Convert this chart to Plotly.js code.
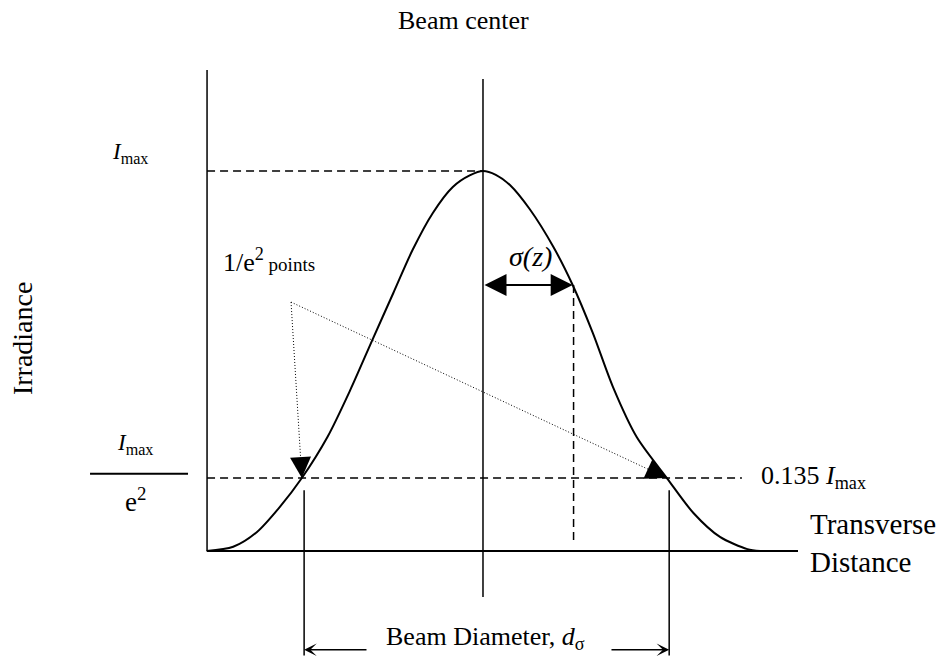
<!DOCTYPE html>
<html><head><meta charset="utf-8">
<script src="https://cdn.plot.ly/plotly-3.0.1.min.js"></script>
<style>html,body{margin:0;padding:0;background:#fff}</style>
</head><body><div id="chart" style="width:940px;height:658px"></div>
<script>
// Beam profile: transverse distance (units of sigma) and normalised irradiance
const curveX = [-3.02,-2.73,-2.47,-2.22,-1.98,-1.70,-1.45,-1.21,-0.98,-0.77,-0.55,-0.33,-0.14,0,0.14,0.30,0.51,0.77,0.98,1.20,1.42,1.68,2.01,2.30,2.59,2.89,3.03];
const curveY = [0,0.011,0.05,0.116,0.192,0.30,0.424,0.555,0.679,0.792,0.889,0.958,0.989,1.0,0.990,0.962,0.900,0.80,0.70,0.574,0.432,0.30,0.192,0.10,0.037,0.005,0];
const levels = [1.0, 0.192];          // I_max level and 1/e^2 level as drawn
const edgePoints = [-1.98, 2.01];     // 1/e^2 crossing points
const sigmaPoint = [0.98, 0.70];      // sigma(z) point on the profile
const pointsLabelOrigin = [-2.098, 0.655]; // where the two dotted pointers start

const FONT = 'Liberation Serif, Times New Roman, serif';
const xL = -3.016, xR = 3.443, yTop = 1.266;
const blk = '#000';

const shapes = [];
function seg(x0,y0,x1,y1,w,dash){
  shapes.push({type:'line',xref:'x',yref:'y',x0:x0,y0:y0,x1:x1,y1:y1,
    line:{color:blk,width:w,dash:dash||'solid'}});
}
// axes
seg(xL,0,xL,yTop,1.5);
seg(xL,0,xR,0,2);
seg(0,-0.121,0,1.242,1.5);
// dashed reference levels
seg(xL,levels[0],0,levels[0],1.5,'8px,5px');
seg(xL,levels[1],2.83,levels[1],1.5,'8px,5px');
seg(sigmaPoint[0]+0.01,sigmaPoint[1],sigmaPoint[0]+0.01,0.021,1.5,'8px,5px');
// diameter ticks
edgePoints.forEach(e=>seg(e+0.025,0.16,e+0.025,-0.275,1.5));
// dotted pointers
edgePoints.forEach(e=>seg(pointsLabelOrigin[0],pointsLabelOrigin[1],e,levels[1],1,'1px,2px'));
// fraction bar
seg(-4.295,0.203,-3.224,0.203,2);

const annotations = [];
function txt(x,y,text,size,opts){
  annotations.push(Object.assign({x:x,y:y,xref:'x',yref:'y',text:text,showarrow:false,
    font:{family:FONT,size:size,color:blk}},opts||{}));
}
function arrow(hx,hy,tx,ty,head,w,sz,both){
  const a = {x:hx,y:hy,ax:tx,ay:ty,xref:'x',yref:'y',axref:'x',ayref:'y',text:'',
    showarrow:true,arrowhead:head,arrowwidth:w,arrowsize:sz,arrowcolor:blk,standoff:0};
  if(both){a.arrowside='end+start';a.startarrowhead=head;a.startarrowsize=sz;a.startstandoff=0;}
  annotations.push(a);
}
// sigma double arrow
arrow(sigmaPoint[0],sigmaPoint[1],0,sigmaPoint[1],2,2,2.2,true);
// dotted pointer heads (short arrows hidden under their heads)
const fr = [0.1,0.045];
edgePoints.forEach((e,i)=>{
  arrow(e,levels[1],e+(pointsLabelOrigin[0]-e)*fr[i],levels[1]+(pointsLabelOrigin[1]-levels[1])*fr[i],2,1,4.2,false);
});
// beam diameter arrows
arrow(edgePoints[0]+0.025,-0.26,-1.257,-0.26,3,1.5,1.4,false);
arrow(edgePoints[1]+0.025,-0.26,1.388,-0.26,3,1.5,1.4,false);

// texts
txt(-0.21,1.397,'Beam center',26);
txt(-3.858,1.047,'<i>I</i><sub>max</sub>',23);
txt(-5.04,0.56,'Irradiance',28,{textangle:-90});
txt(-3.80,0.282,'<i>I</i><sub>max</sub>',23);
txt(-3.80,0.135,'e<sup>2</sup>',27);
txt(-2.86,0.765,'1/e<sup>2</sup><span style="font-size:19px"> points</span>',26,{xanchor:'left'});
txt(0.52,0.775,'<i>σ(z)</i>',28);
txt(3.02,0.196,'0.135 <i>I</i><sub>max</sub>',26,{xanchor:'left'});
txt(3.55,0.022,'Transverse<br>Distance',29,{xanchor:'left',align:'left'});
txt(0.03,-0.228,'Beam Diameter, <i>d</i><sub>σ</sub>',26);

const data = [{x:curveX,y:curveY,type:'scatter',mode:'lines',
  line:{color:blk,width:2,shape:'spline',smoothing:0.8},hoverinfo:'skip'}];

const layout = {
  width:940,height:658,margin:{l:0,r:0,t:0,b:0},
  paper_bgcolor:'#fff',plot_bgcolor:'#fff',showlegend:false,
  xaxis:{range:[-5.279,4.995],visible:false,fixedrange:true},
  yaxis:{range:[-0.2816,1.45],visible:false,fixedrange:true},
  shapes:shapes,annotations:annotations
};
Plotly.newPlot('chart',data,layout,{staticPlot:true,displayModeBar:false});
</script></body></html>
